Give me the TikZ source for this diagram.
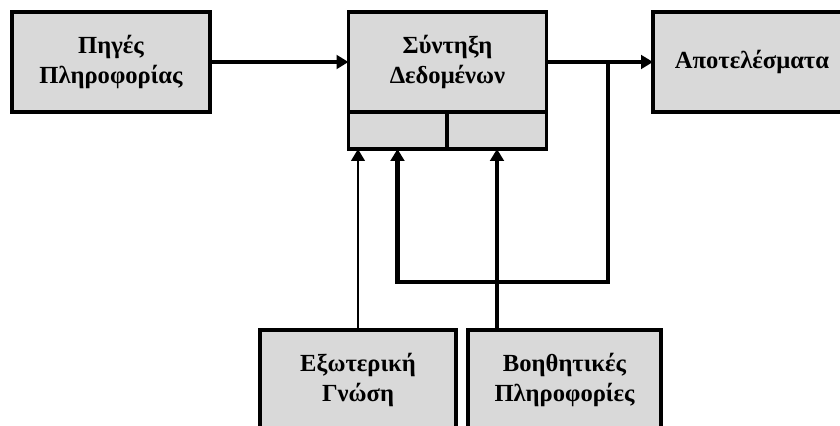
\documentclass[tikz,border=0pt]{standalone}
\usepackage{fontspec}
\setmainfont{Liberation Serif}
\usepackage{tikz}
\usetikzlibrary{arrows.meta,positioning}

\definecolor{boxgray}{HTML}{D9D9D9}

\begin{document}
\begin{tikzpicture}[
  node distance=0pt,
  block/.style={draw, line width=2.2pt, fill=boxgray, rectangle, minimum width=4.95cm, minimum height=2.5cm, align=center, inner sep=0pt, outer sep=0pt, font=\fontsize{17.5}{21.3}\selectfont\bfseries},
  slot/.style={draw, line width=2.2pt, fill=boxgray, rectangle, minimum height=0.925cm, inner sep=0pt, outer sep=0pt},
  arrow/.style={-{Triangle[length=0.3cm, width=0.34cm]}, line width=3pt},
  thinarrow/.style={-{Triangle[length=0.3cm, width=0.34cm]}, line width=1.6pt}
]
\path[use as bounding box, clip] (0,0) rectangle (21,10.65);

\node[block] (piges) at (2.775,9.1) {Πηγές\\Πληροφορίας};
\node[block] (synthesi) at (11.1875,9.1) {Σύντηξη\\Δεδομένων};
\node[slot, minimum width=2.45cm, below right=of synthesi.south west] (slotA) {};
\node[slot, minimum width=2.475cm, below left=of synthesi.south east] (slotB) {};
\node[block] (apotelesmata) at (18.8,9.1) {Αποτελέσματα};

\node[block, minimum width=4.9cm] (exoteriki) at (8.95,1.15) {Εξωτερική\\Γνώση};
\node[block, minimum width=4.825cm] (voithitikes) at (14.1125,1.15) {Βοηθητικές\\Πληροφορίες};

% feedback branch
\coordinate (fb) at (15.2,9.1);
\coordinate (fbturn) at (15.2,3.6);

\draw[arrow] (piges) -- (synthesi);
\draw[arrow] (synthesi) -- (apotelesmata);
\draw[arrow] (fb) -- (fbturn) -| (slotA.south);
\draw[thinarrow] (exoteriki.north) -- (exoteriki.north |- slotA.south);
\draw[arrow] (slotB.south |- voithitikes.north) -- (slotB.south);

\end{tikzpicture}
\end{document}
